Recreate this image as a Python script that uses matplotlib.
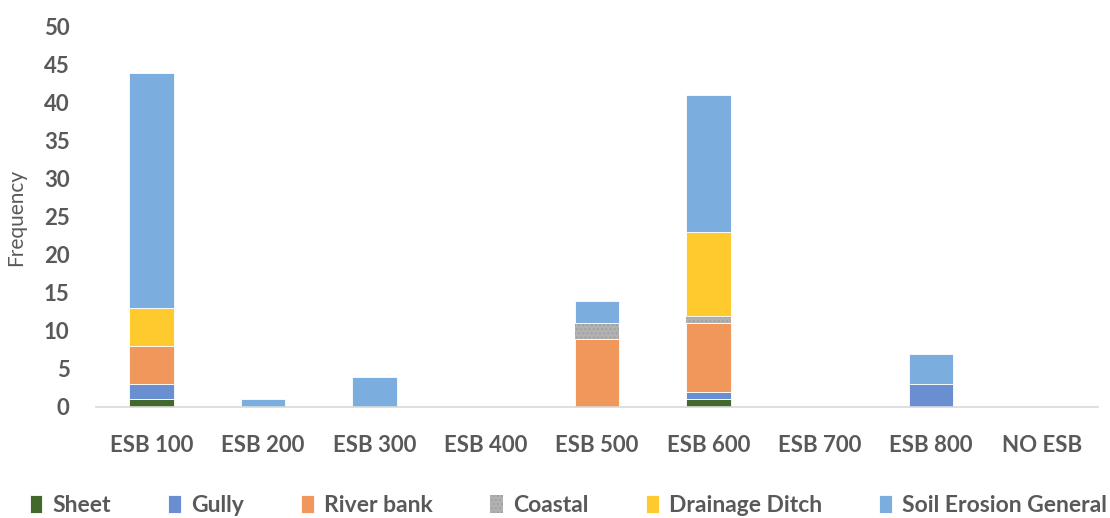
import matplotlib
matplotlib.use("Agg")
import matplotlib.pyplot as plt
import numpy as np

categories = ["ESB 100", "ESB 200", "ESB 300", "ESB 400", "ESB 500",
              "ESB 600", "ESB 700", "ESB 800", "NO ESB"]
sheet = [1, 0, 0, 0, 0, 1, 0, 0, 0]
gully = [2, 0, 0, 0, 0, 1, 0, 3, 0]
river_bank = [5, 0, 0, 0, 9, 9, 0, 0, 0]
coastal = [0, 0, 0, 0, 2, 1, 0, 0, 0]
drainage_ditch = [5, 0, 0, 0, 0, 11, 0, 0, 0]
soil_erosion_general = [31, 1, 4, 0, 3, 18, 0, 4, 0]
y_ticks = [0, 5, 10, 15, 20, 25, 30, 35, 40, 45, 50]

series = [
    ("Sheet", sheet, "#43682b"),
    ("Gully", gully, "#6a8fd1"),
    ("River bank", river_bank, "#f0985c"),
    ("Coastal", coastal, "#b2b2b2"),
    ("Drainage Ditch", drainage_ditch, "#ffca2e"),
    ("Soil Erosion General", soil_erosion_general, "#7badde"),
]

plt.rcParams["font.family"] = ["Lato", "DejaVu Sans"]
text_color = "#595959"

fig = plt.figure(figsize=(11.1, 5.18), dpi=100)
ax = fig.add_axes([0.0865, 0.2143, 0.9027, 0.7336])

x = np.arange(len(categories))
bottom = np.zeros(len(categories))
handles = []
for name, vals, color in series:
    vals = np.array(vals, dtype=float)
    kw = {}
    if name == "Coastal":
        kw = dict(hatch="....")
    bars = ax.bar(x, vals, width=0.4, bottom=bottom, color=color,
                  edgecolor="white", linewidth=0.6, label=name, **kw)
    if name == "Coastal":
        for b in bars:
            b.set_edgecolor("#a0a0a0")
            b.set_linewidth(0)
    bottom += vals
    handles.append(bars)

ax.set_xlim(-0.5, len(categories) - 0.5)
ax.set_ylim(0, 50)
ax.set_yticks(y_ticks)
ax.set_xticks(x)
ax.set_xticklabels(categories)
for spine in ["top", "right", "left"]:
    ax.spines[spine].set_visible(False)
ax.spines["bottom"].set_color("#d9d9d9")
ax.spines["bottom"].set_linewidth(1.2)
ax.tick_params(axis="both", length=0, labelsize=16, labelcolor=text_color)
ax.tick_params(axis="x", pad=20)
ax.tick_params(axis="y", pad=19)
for lbl in ax.get_xticklabels() + ax.get_yticklabels():
    lbl.set_fontweight("bold")
ax.set_ylabel("Frequency", fontsize=15, color=text_color)
ax.yaxis.set_label_coords(-0.07, 0.5)

leg = fig.legend(handles=handles, labels=[s[0] for s in series],
                 loc="center", bbox_to_anchor=(0.512, 0.024), ncol=6,
                 frameon=False, handlelength=0.55, handleheight=0.85,
                 handletextpad=0.45, columnspacing=2.5,
                 prop={"size": 16.5, "weight": "bold"})
for t in leg.get_texts():
    t.set_color(text_color)

fig.savefig("out.png", dpi=100)
